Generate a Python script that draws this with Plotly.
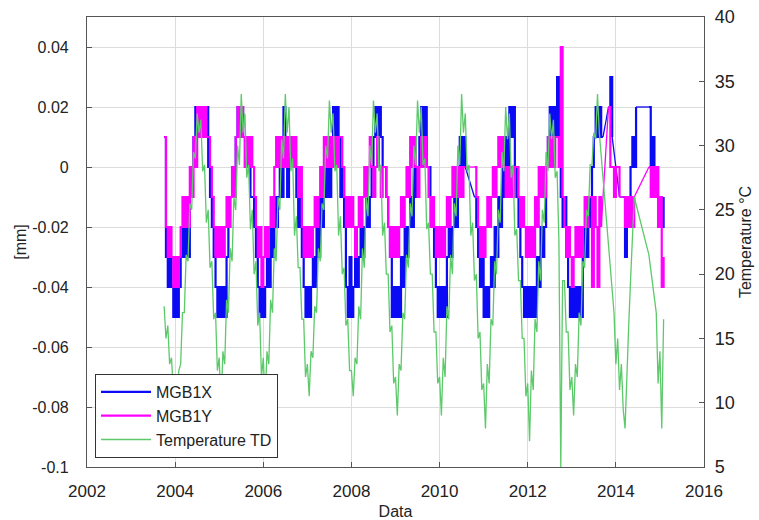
import plotly.graph_objects as go

# Sampling: semi-monthly values, hydrological years Oct-Sep, first sample 2003.75
START_YEAR = 2003.75
SAMPLES_PER_YEAR = 24

# MGB1X displacement, in hundredths of mm (None = no data)
x_2004 = [1, -3, -4, -3, -4, -5, -4, -5, -4, -3, -2, -3, -2, -3, -1, 0, 1, 2, 1, 2, 1, 2, 1, 2]
x_2005 = [0, -1, -2, -3, -4, -5, -4, -5, -4, -5, -3, -2, -1, 0, -1, 1, 2, 1, 2, 1, 0, 1, 0, -1]
x_2006 = [-1, -2, -3, -4, -5, -4, -5, -4, -3, -4, -2, -3, -1, -2, -1, 0, -1, 2, 0, -1, 1, 0, 1, 0]
x_2007 = [-1, -2, -1, -3, -4, -5, -4, -5, -4, -3, -4, -2, -3, -1, -2, 0, -1, 0, -1, 1, 2, 1, 2, 1]
x_2008 = [-1, 0, -2, -4, -5, -3, -5, -4, -3, -4, -3, -2, -3, -2, -1, -2, -1, 0, 1, 2, 1, 2, 1, 0]
x_2009 = [0, -1, -2, -3, -5, -4, -5, -4, -5, -3, -4, -2, -3, -2, -1, -2, 0, -1, 0, 1, 2, 1, 2, 0]
x_2010 = [0, -1, -2, -3, -4, -5, -4, -5, -4, -5, -3, -2, -3, -2, -1, -2, -1, 1, 0, 1, 0, None, None, None]
x_2011 = [None, -1, -2, -3, -4, -3, -5, -4, -5, -4, -3, -4, -2, -3, -1, -2, 0, -1, 1, 0, 2, 1, 2, 0]
x_2012 = [-1, -2, -3, -4, -5, -4, -5, -4, -5, -4, -5, -3, -4, -2, -3, -2, 0, 1, 2, 1, 2, 1, 3, 0]
x_2013 = [-1, -2, -1, -3, -4, -5, -4, -5, -4, -5, -4, -5, -3, -2, -3, -1, -2, 0, 1, 2, 1, 2, 1, 1]
x_2014 = [None, None, 2, 3, 1, None, 0, None, -1, None, -1, -3, -1, -2, 0, 1, 0, 2, None, None, None, None, None, None]
x_2015 = [2, 0, 1, -1, 0, -2, -1, -2, -1]

# MGB1Y displacement, in hundredths of mm
y_2004 = [1, -2, -3, -2, -3, -4, -3, -4, -3, -2, -1, -2, -1, -2, 0, -1, 1, 0, 2, 1, 2, 1, 2, 1]
y_2005 = [1, 0, -1, -2, -3, -2, -3, -2, -3, -2, -1, -2, -1, 0, -1, 1, 2, 1, 2, 1, 0, 1, 0, 1]
y_2006 = [0, -1, -2, -3, -2, -4, -3, -2, -3, -2, -1, -2, 0, 1, 0, 1, 0, 1, 0, 1, 0, 1, 0, 1]
y_2007 = [0, -1, 0, -2, -3, -2, -3, -2, -3, -2, -1, -2, -1, 0, -1, 1, 0, 1, 0, 1, 0, 1, 0, 1]
y_2008 = [1, 0, -1, -2, -1, -2, -1, -2, -3, -2, -1, -2, -1, 0, -1, 0, 1, 0, -1, 0, 1, 0, -1, 0]
y_2009 = [0, -1, -2, -3, -2, -3, -2, -3, -2, -1, -2, -1, 0, -1, 1, 0, 1, 0, -1, 0, 1, 0, 1, 0]
y_2010 = [-1, -2, -1, -2, -3, -2, -3, -2, -3, -2, -1, -2, -1, 0, -1, 0, -1, 0, -1, 0, 0, None, None, None]
y_2011 = [None, 0, -1, -2, -3, -2, -3, -2, -1, -2, -1, 0, -1, 0, 1, 0, 1, 0, -1, 0, -1, 0, -1, 0]
y_2012 = [0, -1, -2, -1, -2, -3, -2, -3, -2, -3, -1, -2, 0, -1, 0, -1, 0, 1, 0, 1, 0, 1, 1, 0]
y_2013 = [4, -1, -2, -3, -2, -3, -4, -3, -2, -3, -2, -3, -2, -1, -2, -1, -1, -4, -1, -2, -4, -1, -2, None]
y_2014 = [None, None, 2, 0, 0, -1, 0, 0, -1, None, -1, -2, -1, -2, -1, -2, -1, None, None, None, None, None, None, None]
y_2015 = [0, -1, 0, -1, 0, -2, -1, -4, -3]

# Temperature TD, degrees C
t_2004 = [17.5, 15.0, 16.0, 13.0, 13.5, 11.0, 12.0, 10.0, 12.5, 13.0, 17.0, 17.0, 21.5, 21.0, 25.5, 25.0, 29.5, 29.0, 32.5, 31.0, 32.0, 28.0, 28.5, 24.0]
t_2005 = [25.0, 20.5, 21.0, 16.5, 17.0, 12.5, 13.5, 9.5, 14.0, 13.0, 18.0, 17.0, 22.0, 21.0, 26.0, 25.0, 30.0, 28.5, 34.0, 31.0, 32.5, 27.5, 28.5, 23.5]
t_2006 = [25.0, 20.0, 21.0, 16.0, 17.0, 12.0, 13.5, 10.0, 14.0, 13.0, 18.0, 17.0, 22.0, 21.0, 26.0, 25.0, 30.5, 29.0, 34.0, 31.0, 33.0, 28.0, 29.0, 23.0]
t_2007 = [24.5, 20.5, 20.5, 16.5, 16.5, 12.0, 13.0, 10.5, 14.0, 13.5, 17.5, 17.0, 22.0, 21.0, 25.5, 25.0, 30.0, 29.0, 33.5, 31.0, 32.5, 28.0, 28.5, 23.0]
t_2008 = [24.5, 20.0, 20.5, 16.0, 16.5, 12.5, 12.5, 10.5, 13.5, 13.0, 17.5, 16.5, 22.0, 20.5, 26.0, 24.5, 30.0, 28.5, 33.5, 31.0, 32.5, 28.0, 28.5, 23.0]
t_2009 = [24.0, 20.0, 20.0, 15.5, 16.0, 11.5, 12.0, 9.0, 13.0, 12.5, 17.0, 16.5, 21.5, 20.5, 25.5, 24.5, 30.0, 28.5, 33.5, 31.0, 33.0, 28.5, 29.0, 23.5]
t_2010 = [24.0, 20.0, 20.0, 15.5, 15.5, 11.5, 12.0, 9.0, 13.5, 12.0, 17.5, 16.5, 21.5, 20.0, 25.5, 24.5, 30.0, 28.5, 34.0, 31.0, 32.5, 28.0, 28.5, 23.0]
t_2011 = [24.0, 19.5, 20.0, 15.0, 15.5, 11.0, 11.5, 8.0, 13.0, 11.5, 16.5, 16.0, 21.0, 20.0, 25.0, 24.0, 29.5, 28.0, 33.0, 30.5, 32.5, 27.5, 28.5, 23.0]
t_2012 = [23.5, 19.5, 19.5, 15.0, 15.0, 10.5, 11.5, 7.0, 12.5, 11.0, 16.5, 15.5, 21.0, 19.5, 25.0, 24.0, 29.5, 28.0, 32.5, 30.5, 32.0, 27.5, 28.0, 22.5]
t_2013 = [5.0, 19.5, 19.5, 15.5, 15.5, 11.0, 12.0, 9.0, 13.0, 12.0, 17.0, 16.0, 21.0, 20.5, 25.0, 24.5, 28.5, 28.5, 31.0, 30.5, 34.0, 31.0, None, None]
t_2014 = [None, None, None, None, None, 17.0, 13.0, 15.0, 11.0, 13.0, 9.5, 8.0, 12.5, 16.0, 19.5, 22.5, 26.0, None, None, None, None, None, None, None]
t_2015 = [21.5, None, None, None, 17.0, 11.5, 14.0, 8.0, 16.5]

# Axis ticks
year_ticks = [2002, 2004, 2006, 2008, 2010, 2012, 2014, 2016]
mm_ticks = [-0.1, -0.08, -0.06, -0.04, -0.02, 0, 0.02, 0.04]
mm_tick_labels = ["-0.1", "-0.08", "-0.06", "-0.04", "-0.02", "0", "0.02", "0.04"]
temp_ticks = [5, 10, 15, 20, 25, 30, 35, 40]

mgb1x_h = x_2004 + x_2005 + x_2006 + x_2007 + x_2008 + x_2009 + x_2010 + x_2011 + x_2012 + x_2013 + x_2014 + x_2015
mgb1y_h = y_2004 + y_2005 + y_2006 + y_2007 + y_2008 + y_2009 + y_2010 + y_2011 + y_2012 + y_2013 + y_2014 + y_2015
temp_td = t_2004 + t_2005 + t_2006 + t_2007 + t_2008 + t_2009 + t_2010 + t_2011 + t_2012 + t_2013 + t_2014 + t_2015


def to_mm(vals):
    return [None if v is None else v * 0.01 for v in vals]


def gap_bridges(t, vals):
    """Straight segments across missing-data runs (last valid -> next valid)."""
    bx, by = [], []
    last = None
    in_gap = False
    for ti, v in zip(t, vals):
        if v is None:
            if last is not None:
                in_gap = True
            continue
        if in_gap:
            bx += [last[0], ti, None]
            by += [last[1], v, None]
            in_gap = False
        last = (ti, v)
    return bx, by


times = [START_YEAR + i / SAMPLES_PER_YEAR for i in range(len(mgb1x_h))]
mgb1x = to_mm(mgb1x_h)
mgb1y = to_mm(mgb1y_h)

FONT = "Liberation Sans, Arial, sans-serif"
BLUE = "#0a0af5"
MAGENTA = "#ff00ff"
GREEN = "#5cc96a"

fig = go.Figure()
fig.add_trace(go.Scatter(x=times, y=mgb1x, name="MGB1X", mode="lines", legendrank=1,
                         line=dict(color=BLUE, width=2.2, shape="hv"), connectgaps=False))
bx, by = gap_bridges(times, mgb1x)
fig.add_trace(go.Scatter(x=bx, y=by, mode="lines", showlegend=False, hoverinfo="skip",
                         line=dict(color=BLUE, width=1.3)))
fig.add_trace(go.Scatter(x=times, y=mgb1y, name="MGB1Y", mode="lines", legendrank=2,
                         line=dict(color=MAGENTA, width=2.2, shape="hv"), connectgaps=False))
bx, by = gap_bridges(times, mgb1y)
fig.add_trace(go.Scatter(x=bx, y=by, mode="lines", showlegend=False, hoverinfo="skip",
                         line=dict(color=MAGENTA, width=1.3)))
fig.add_trace(go.Scatter(x=times, y=temp_td, name="Temperature TD", mode="lines", legendrank=3,
                         line=dict(color=GREEN, width=1.3), connectgaps=True, yaxis="y2"))

axis_common = dict(ticks="inside", ticklen=5, tickcolor="#555", showline=True,
                   linecolor="#555", linewidth=1.2, zeroline=False, automargin=False)

fig.update_layout(
    width=759, height=520,
    margin=dict(l=87, r=55, t=17, b=53),
    paper_bgcolor="white", plot_bgcolor="white",
    font=dict(family=FONT, size=16, color="#222"),
    showlegend=True,
    xaxis=dict(range=[2002, 2016], tickvals=year_ticks, showgrid=True, gridcolor="#dcdcdc",
               mirror=True, ticklabelstandoff=8,
               tickfont=dict(family=FONT, size=17, color="#222"),
               title=dict(text="Data", font=dict(family=FONT, size=16), standoff=6),
               **axis_common),
    yaxis=dict(range=[-0.1, 0.05], tickvals=mm_ticks, ticktext=mm_tick_labels,
               showgrid=True, gridcolor="#dcdcdc", mirror=True, ticklabelstandoff=14,
               tickfont=dict(family=FONT, size=16, color="#222"),
               title=dict(text="[mm]", font=dict(family=FONT, size=16), standoff=1),
               **axis_common),
    yaxis2=dict(range=[5, 40], tickvals=temp_ticks, overlaying="y", side="right",
                showgrid=False, ticklabelstandoff=6,
                tickfont=dict(family=FONT, size=18, color="#222"),
                title=dict(text="Temperature °C", font=dict(family=FONT, size=16), standoff=6),
                **axis_common),
    legend=dict(x=0.013, y=0.02, xanchor="left", yanchor="bottom", bgcolor="white",
                bordercolor="#333", borderwidth=1, font=dict(family=FONT, size=16, color="#222"),
                tracegroupgap=0, itemwidth=50),
)

fig.write_html("out.html", config={"displayModeBar": False},
               post_script="document.body.style.margin='0';")
